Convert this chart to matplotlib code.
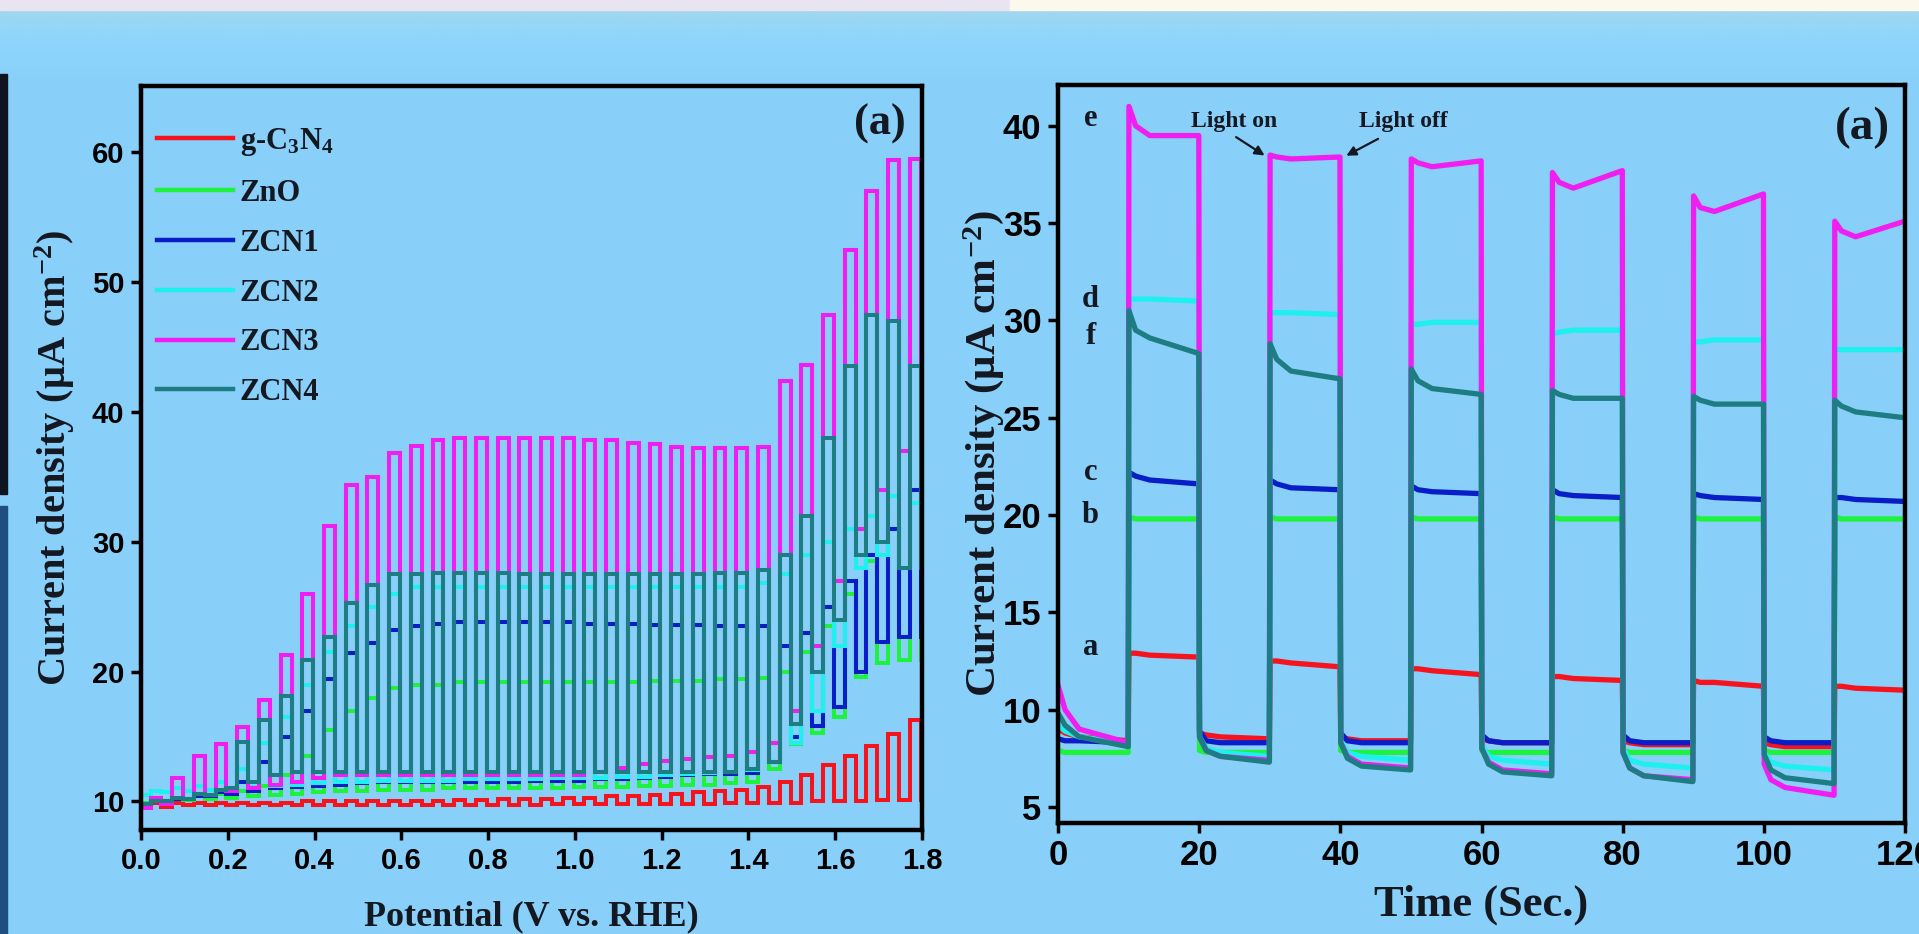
import numpy as np
import matplotlib
matplotlib.use('Agg')
import matplotlib.pyplot as plt
from matplotlib.patches import Rectangle
from matplotlib.colors import LinearSegmentedColormap

# fonts: bold sans for ticks, bold serif for labels / legend / annotations
plt.rcParams['font.family'] = 'Liberation Sans'
plt.rcParams['font.weight'] = 'bold'
plt.rcParams['axes.labelweight'] = 'bold'
plt.rcParams['mathtext.fontset'] = 'custom'
plt.rcParams['mathtext.rm'] = 'Liberation Serif:bold'
plt.rcParams['mathtext.it'] = 'Liberation Serif:bold:italic'
plt.rcParams['mathtext.bf'] = 'Liberation Serif:bold'

BG = '#88cff9'
SERIF = 'Liberation Serif'
INK = '#141820'

series_labels = ['g-C$_3$N$_4$', 'ZnO', 'ZCN1', 'ZCN2', 'ZCN3', 'ZCN4']
series_colors = ['#f5141e', '#1ef23c', '#0a1ec8', '#1ef0f0', '#f01ef0', '#1e7d82']

# ---------------- left panel: chopped LSV (one value per light pulse) ----------------
pulse_first = 0.022    # first light-on edge (V)
pulse_period = 0.05
pulse_width = 0.025

gcn_light = [9.9, 9.9, 9.9, 9.9, 9.9, 9.9, 9.9, 10.0, 10.0, 10.0, 10.0, 10.0, 10.0, 10.0, 10.1, 10.1, 10.2, 10.2,
             10.2, 10.3, 10.3, 10.4, 10.4, 10.5, 10.6, 10.7, 10.8, 10.9, 11.1, 11.5, 12.0, 12.8, 13.5, 14.3, 15.2, 16.3]
gcn_dark = [9.6, 9.6, 9.7, 9.7, 9.7, 9.7, 9.7, 9.7, 9.7, 9.7, 9.7, 9.7, 9.7, 9.7, 9.7, 9.7, 9.7, 9.7,
            9.7, 9.8, 9.8, 9.8, 9.8, 9.8, 9.8, 9.8, 9.8, 9.9, 9.9, 9.9, 9.9, 10.0, 10.0, 10.0, 10.1, 10.1]
zno_light = [10.2, 10.3, 10.4, 10.6, 10.8, 11.2, 12.0, 13.5, 15.5, 17.0, 18.0, 18.7, 19.0, 19.0, 19.2, 19.2, 19.2, 19.2,
             19.2, 19.2, 19.2, 19.2, 19.2, 19.3, 19.3, 19.3, 19.4, 19.4, 19.5, 20.0, 21.5, 23.5, 26.0, 28.5, 31.0, 34.0]
zno_dark = [9.9, 10.0, 10.1, 10.2, 10.3, 10.4, 10.5, 10.6, 10.7, 10.8, 10.8, 10.9, 10.9, 10.9, 11.0, 11.0, 11.0, 11.0,
            11.0, 11.0, 11.1, 11.1, 11.1, 11.2, 11.2, 11.3, 11.3, 11.4, 11.5, 12.5, 14.4, 15.3, 16.5, 19.6, 20.7, 20.9]
zcn1_light = [10.0, 10.2, 10.4, 10.7, 11.5, 13.0, 15.0, 17.0, 19.4, 21.4, 22.2, 23.2, 23.5, 23.7, 23.8, 23.8, 23.8, 23.8,
              23.8, 23.8, 23.7, 23.7, 23.7, 23.6, 23.6, 23.6, 23.5, 23.5, 23.5, 22.0, 23.0, 25.0, 27.0, 29.0, 31.0, 34.0]
zcn1_dark = [9.8, 10.0, 10.2, 10.4, 10.6, 10.8, 11.0, 11.1, 11.2, 11.3, 11.4, 11.5, 11.5, 11.5, 11.5, 11.5, 11.5, 11.5,
             11.6, 11.6, 11.6, 11.7, 11.7, 11.8, 11.9, 12.0, 12.1, 12.1, 12.2, 13.0, 15.0, 15.8, 17.3, 20.0, 22.3, 22.7]
zcn2_light = [10.8, 11.0, 11.2, 11.5, 12.5, 14.5, 16.5, 19.0, 21.5, 23.5, 25.0, 26.0, 26.5, 26.5, 26.5, 26.5, 26.5, 26.5,
              26.5, 26.5, 26.5, 26.5, 26.5, 26.5, 26.5, 26.5, 26.5, 26.5, 26.8, 27.5, 29.0, 30.0, 31.0, 32.0, 33.5, 33.0]
zcn2_dark = [10.5, 10.7, 10.8, 10.9, 11.0, 11.1, 11.2, 11.3, 11.4, 11.5, 11.5, 11.6, 11.6, 11.6, 11.6, 11.7, 11.7, 11.7,
             11.7, 11.8, 11.8, 11.8, 11.9, 11.9, 12.0, 12.1, 12.2, 12.3, 12.4, 13.0, 14.5, 17.0, 22.0, 28.0, 29.0, 28.0]
zcn3_light = [10.3, 11.8, 13.5, 14.4, 15.7, 17.8, 21.3, 26.0, 31.2, 34.4, 35.0, 36.8, 37.4, 37.8, 38.0, 38.0, 38.0, 38.0,
              38.0, 38.0, 37.8, 37.8, 37.6, 37.5, 37.3, 37.2, 37.2, 37.2, 37.3, 42.4, 43.6, 47.5, 52.5, 57.0, 59.4, 59.5]
zcn3_dark = [9.5, 9.8, 10.2, 10.5, 10.8, 11.0, 11.3, 11.5, 11.8, 12.0, 12.0, 12.0, 12.0, 12.0, 12.0, 12.0, 12.0, 12.0,
             12.0, 12.0, 12.0, 12.3, 12.6, 12.9, 13.1, 13.3, 13.4, 13.5, 13.8, 14.5, 17.0, 22.0, 27.0, 31.0, 34.0, 37.0]
zcn4_light = [10.0, 10.3, 10.6, 10.9, 14.6, 16.3, 18.1, 20.9, 22.7, 25.3, 26.7, 27.5, 27.5, 27.6, 27.6, 27.6, 27.6, 27.5,
              27.5, 27.5, 27.5, 27.5, 27.5, 27.5, 27.5, 27.5, 27.6, 27.6, 27.8, 29.0, 32.0, 38.0, 43.5, 47.5, 47.0, 43.5]
zcn4_dark = [9.8, 10.0, 10.2, 10.5, 11.0, 11.5, 12.0, 12.3, 12.3, 12.3, 12.3, 12.3, 12.3, 12.3, 12.3, 12.3, 12.3, 12.3,
             12.3, 12.3, 12.3, 12.3, 12.3, 12.3, 12.3, 12.3, 12.3, 12.3, 12.5, 13.0, 16.0, 20.0, 24.0, 29.0, 30.0, 28.0]

lsv_light = [gcn_light, zno_light, zcn1_light, zcn2_light, zcn3_light, zcn4_light]
lsv_dark = [gcn_dark, zno_dark, zcn1_dark, zcn2_dark, zcn3_dark, zcn4_dark]

potential_ticks = [0.0, 0.2, 0.4, 0.6, 0.8, 1.0, 1.2, 1.4, 1.6, 1.8]
lsv_yticks = [10, 20, 30, 40, 50, 60]

# ---------------- right panel: transient photocurrent ----------------
# every 10 s half period sampled at the same offsets after the switching edge
switch_times = [0, 10, 20, 30, 40, 50, 60, 70, 80, 90, 100, 110]
seg_offsets = [0.05, 1.0, 3.0, 9.95]

it_a = [[9.0, 8.8, 8.6, 8.4], [12.9, 12.9, 12.8, 12.7], [8.8, 8.7, 8.6, 8.5], [12.5, 12.5, 12.4, 12.2],
        [8.6, 8.5, 8.4, 8.4], [12.1, 12.1, 12.0, 11.8], [8.5, 8.4, 8.3, 8.3], [11.7, 11.7, 11.6, 11.5],
        [8.4, 8.3, 8.2, 8.2], [11.5, 11.4, 11.4, 11.2], [8.3, 8.2, 8.1, 8.1], [11.2, 11.2, 11.1, 11.0]]
it_b = [[7.9, 7.8, 7.8, 7.8], [19.9, 19.8, 19.8, 19.8], [7.9, 7.8, 7.8, 7.8], [19.9, 19.8, 19.8, 19.8],
        [7.9, 7.8, 7.8, 7.8], [19.9, 19.8, 19.8, 19.8], [7.9, 7.8, 7.8, 7.8], [19.9, 19.8, 19.8, 19.8],
        [7.9, 7.8, 7.8, 7.8], [19.9, 19.8, 19.8, 19.8], [7.9, 7.8, 7.8, 7.8], [19.9, 19.8, 19.8, 19.8]]
it_c = [[8.5, 8.4, 8.4, 8.3], [22.2, 22.0, 21.8, 21.6], [8.9, 8.4, 8.3, 8.3], [21.8, 21.6, 21.4, 21.3],
        [8.8, 8.4, 8.3, 8.3], [21.5, 21.3, 21.2, 21.1], [8.7, 8.4, 8.3, 8.3], [21.3, 21.1, 21.0, 20.9],
        [8.7, 8.4, 8.3, 8.3], [21.1, 21.0, 20.9, 20.8], [8.6, 8.4, 8.3, 8.3], [20.9, 20.9, 20.8, 20.7]]
it_d = [[9.2, 8.9, 8.6, 8.3], [31.1, 31.1, 31.1, 31.0], [8.6, 8.0, 7.8, 7.6], [30.4, 30.4, 30.4, 30.3],
        [8.4, 7.8, 7.6, 7.4], [29.8, 29.8, 29.9, 29.9], [8.2, 7.6, 7.4, 7.2], [29.3, 29.4, 29.5, 29.5],
        [8.0, 7.4, 7.2, 7.0], [28.9, 28.9, 29.0, 29.0], [7.8, 7.3, 7.1, 6.9], [28.5, 28.5, 28.5, 28.5]]
it_e = [[11.2, 10.0, 9.0, 8.3], [41.0, 40.0, 39.5, 39.5], [8.6, 7.9, 7.6, 7.4], [38.5, 38.4, 38.3, 38.4],
        [8.3, 7.6, 7.2, 7.0], [38.3, 38.1, 37.9, 38.2], [8.0, 7.3, 6.9, 6.7], [37.6, 37.1, 36.8, 37.7],
        [7.8, 7.0, 6.6, 6.4], [36.4, 35.8, 35.6, 36.5], [7.2, 6.4, 6.0, 5.6], [35.1, 34.6, 34.3, 35.1]]
it_f = [[9.8, 9.2, 8.6, 8.1], [30.5, 29.5, 29.1, 28.3], [8.6, 7.9, 7.6, 7.3], [28.8, 28.0, 27.4, 27.0],
        [8.3, 7.5, 7.1, 6.9], [27.5, 26.9, 26.5, 26.2], [8.0, 7.2, 6.8, 6.6], [26.4, 26.2, 26.0, 26.0],
        [7.8, 7.0, 6.6, 6.3], [26.1, 25.9, 25.7, 25.7], [7.7, 6.9, 6.5, 6.2], [25.9, 25.6, 25.3, 25.0]]
it_series = [it_a, it_b, it_c, it_d, it_e, it_f]
it_letters = ['a', 'b', 'c', 'd', 'e', 'f']
letter_y = [13.2, 20.0, 22.2, 31.1, 40.4, 29.2]

time_ticks = [0, 20, 40, 60, 80, 100, 120]
it_yticks = [5, 10, 15, 20, 25, 30, 35, 40]


def chopped(light, dark):
    """step path of a chopped-light sweep"""
    v, j = [0.0], [dark[0]]
    for k in range(len(light)):
        on = pulse_first + k * pulse_period
        off = on + pulse_width
        nxt = dark[k + 1] if k + 1 < len(dark) else dark[k]
        v += [on, on, off, off]
        j += [dark[k], light[k], light[k], nxt]
    return v, j


def transient(segments):
    t, y = [], []
    for start, seg in zip(switch_times, segments):
        t += [start + o for o in seg_offsets]
        y += seg
    return t, y


def style_axes(ax, size):
    ax.set_facecolor(BG)
    for s in ax.spines.values():
        s.set_linewidth(3.2)
        s.set_color('black')
    ax.tick_params(direction='out', length=7, width=2.5, labelsize=size, pad=5,
                   top=False, right=False, colors='black')


fig = plt.figure(figsize=(19.19, 9.34), dpi=100, facecolor=BG)
W, H = 1919.0, 934.0

# soft lighter band under the page edge of the screenshot
band = fig.add_axes([0, 1 - 90 / H, 1, 80 / H], zorder=-5)
band_cmap = LinearSegmentedColormap.from_list('band', ['#a2d6ef', '#8ed6fc', '#8bd3fb', BG])
band.imshow(np.linspace(0, 1, 64)[:, None], aspect='auto', cmap=band_cmap, extent=(0, 1, 0, 1))
band.set_axis_off()

# bits of the surrounding page that show in the screenshot
fig.patches.extend([
    Rectangle((0, 1 - 10 / H), 1010 / W, 10 / H, transform=fig.transFigure, color='#e9e4f2', zorder=0),
    Rectangle((1010 / W, 1 - 10 / H), 909 / W, 10 / H, transform=fig.transFigure, color='#fcf8ec', zorder=0),
    Rectangle((0, 1 - 494 / H), 7 / W, 420 / H, transform=fig.transFigure, color='#0e1520', zorder=0),
    Rectangle((0, 0), 7 / W, 428 / H, transform=fig.transFigure, color='#1f4f80', zorder=0),
])

# ---- left ----
ax1 = fig.add_axes([141 / W, 1 - 830 / H, 781 / W, 744 / H])
style_axes(ax1, 21)
for lab, col, li, da in zip(series_labels, series_colors, lsv_light, lsv_dark):
    v, j = chopped(li, da)
    ax1.plot(v, j, color=col, lw=2.9, label=lab, solid_joinstyle='miter')
ax1.set_xlim(0, 1.8)
ax1.set_ylim(7.8, 65.1)
ax1.set_xticks(potential_ticks)
ax1.set_xticklabels([f'{p:.1f}' for p in potential_ticks])
ax1.set_yticks(lsv_yticks)
ax1.set_xlabel('Potential (V vs. RHE)', fontfamily=SERIF, fontsize=26, color=INK)
ax1.set_ylabel('Current density (μA cm$^{-2}$)', fontfamily=SERIF, fontsize=29, color=INK)
ax1.xaxis.set_label_coords(0.5, -0.095)
ax1.xaxis.label.set_va('top')
ax1.yaxis.set_label_coords(-0.082, 0.5)
leg = ax1.legend(loc='upper left', bbox_to_anchor=(0.0205, 0.946), frameon=False, borderpad=0,
                 borderaxespad=0, handlelength=2.5, handletextpad=0.2, labelspacing=0.68,
                 prop={'family': SERIF, 'weight': 'bold', 'size': 22})
for h in leg.get_lines():
    h.set_linewidth(3.2)
for t in leg.get_texts():
    t.set_color(INK)
ax1.text(1.703, 62.2, '(a)', fontfamily=SERIF, fontsize=32, ha='center', va='center', color=INK)

# ---- right ----
ax2 = fig.add_axes([1058 / W, 1 - 822.5 / H, 847 / W, 737.5 / H])
style_axes(ax2, 25)
for col, segs in zip(series_colors, it_series):
    t, y = transient(segs)
    ax2.plot(t, y, color=col, lw=3.8)
ax2.set_xlim(0, 120)
ax2.set_ylim(4.2, 42.1)
ax2.set_xticks(time_ticks)
ax2.set_yticks(it_yticks)
ax2.set_xlabel('Time (Sec.)', fontfamily=SERIF, fontsize=32, color=INK)
ax2.set_ylabel('Current density (μA cm$^{-2}$)', fontfamily=SERIF, fontsize=31, color=INK)
ax2.xaxis.set_label_coords(0.5, -0.084)
ax2.xaxis.label.set_va('top')
ax2.yaxis.set_label_coords(-0.061, 0.5)
for let, ly in zip(it_letters, letter_y):
    ax2.text(4.6, ly, let, fontfamily=SERIF, fontsize=22, ha='center', va='center', color=INK)
ax2.text(24.9, 40.2, 'Light on', fontfamily=SERIF, fontsize=17, ha='center', va='center', color=INK)
ax2.text(49.0, 40.2, 'Light off', fontfamily=SERIF, fontsize=17, ha='center', va='center', color=INK)
ax2.annotate('', xy=(29.6, 38.4), xytext=(24.9, 39.5),
             arrowprops=dict(arrowstyle='-|>', color=INK, lw=1.6, mutation_scale=14))
ax2.annotate('', xy=(40.5, 38.4), xytext=(45.7, 39.4),
             arrowprops=dict(arrowstyle='-|>', color=INK, lw=1.6, mutation_scale=14))
ax2.text(114, 39.9, '(a)', fontfamily=SERIF, fontsize=34, ha='center', va='center', color=INK)

fig.savefig('out.png', dpi=100, facecolor=BG)
